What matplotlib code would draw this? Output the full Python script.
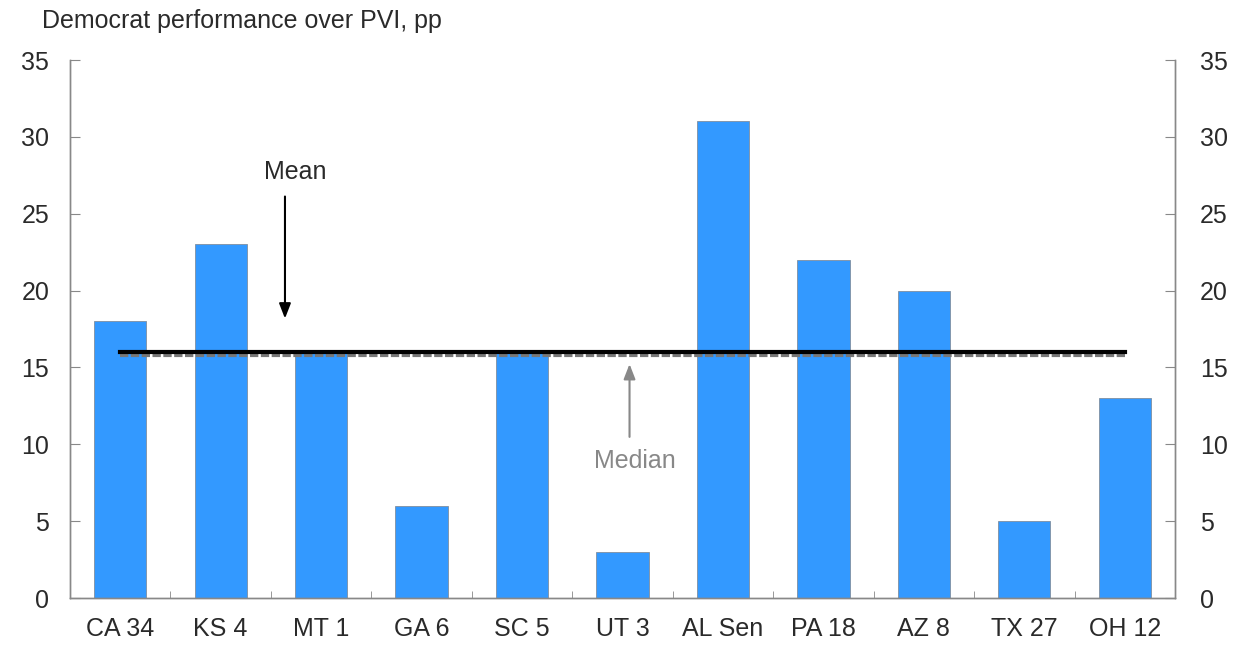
import matplotlib
matplotlib.use("Agg")
import matplotlib.pyplot as plt
import numpy as np

plt.rcParams['font.family'] = ['Liberation Sans', 'DejaVu Sans']

categories = ["CA 34", "KS 4", "MT 1", "GA 6", "SC 5", "UT 3", "AL Sen", "PA 18", "AZ 8", "TX 27", "OH 12"]
values = [18, 23, 16, 6, 16, 3, 31, 22, 20, 5, 13]
mean_value = 16.0
median_value = 15.8
yticks = [0, 5, 10, 15, 20, 25, 30, 35]

FS = 18
TXT = "#2a2a2a"

fig = plt.figure(figsize=(12.57, 6.46), dpi=100)
ax = fig.add_axes([70/1257, 48/646, (1175-70)/1257, (598-60)/646])

x = np.arange(len(categories))
ax.bar(x, values, width=0.52, color="#3399FF", edgecolor="#7f8fa0", linewidth=0.6, zorder=2)

ax.plot([x[0], x[-1]], [median_value, median_value], color="#777777", lw=3, ls=(0, (2, 0.6)), zorder=3)
ax.plot([x[0], x[-1]], [mean_value, mean_value], color="black", lw=3, zorder=4)

ax.annotate("", xy=(1.64, 18.0), xytext=(1.64, 26.3),
            arrowprops=dict(arrowstyle="-|>,head_width=0.35,head_length=0.9", color="black", lw=1.5), zorder=5)
ax.text(1.74, 27.7, "Mean", ha="center", va="center", fontsize=FS, color=TXT)
ax.annotate("", xy=(5.07, 15.4), xytext=(5.07, 10.3),
            arrowprops=dict(arrowstyle="-|>,head_width=0.35,head_length=0.9", color="#888888", lw=1.5), zorder=5)
ax.text(5.12, 8.9, "Median", ha="center", va="center", fontsize=FS, color="#888888")

ax.set_xlim(-0.5, len(categories) - 0.5)
ax.set_ylim(0, 35)
ax.set_yticks(yticks)
ax.set_yticklabels([str(t) for t in yticks], fontsize=FS, color=TXT)
ax.set_xticks(x)
ax.set_xticklabels(categories, fontsize=FS, color=TXT)
ax.tick_params(axis='x', length=0, pad=14)
ax.set_xticks(np.arange(-0.5, len(categories) + 0.5, 1), minor=True)
ax.tick_params(axis='x', which='minor', direction='in', length=5, color="#888888")
ax.tick_params(axis='y', direction='in', length=7, color="#888888", pad=15)

ax2 = ax.twinx()
ax2.set_ylim(0, 35)
ax2.set_yticks(yticks)
ax2.set_yticklabels([str(t) for t in yticks], fontsize=FS, color=TXT)
ax2.tick_params(axis='y', direction='in', length=7, color="#888888", pad=18)

for a in (ax, ax2):
    a.spines['top'].set_visible(False)
    for s in ('left', 'right', 'bottom'):
        a.spines[s].set_color("#888888")
        a.spines[s].set_linewidth(1.0)

fig.text(42/1257, 1 - 21/646, "Democrat performance over PVI, pp", fontsize=FS, ha="left", va="center", color=TXT)

fig.savefig("out.png", dpi=100)
